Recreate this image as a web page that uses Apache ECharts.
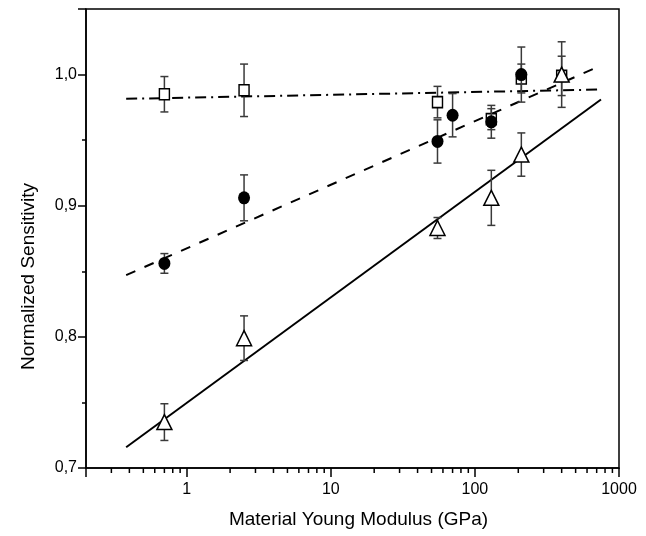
<!DOCTYPE html>
<html>
<head>
<meta charset="utf-8">
<script src="https://cdn.jsdelivr.net/npm/echarts@6/dist/echarts.min.js"></script>
<style>
  html, body { margin: 0; padding: 0; background: #fff; }
  #chart { width: 646px; height: 536px; }
</style>
</head>
<body>
<div id="chart"></div>
<script>
// ── Данные ───────────────────────────────────────────────────────────────────
var squareX   = [0.7, 2.5, 55, 130, 210, 400];
var squareY   = [0.985, 0.988, 0.979, 0.966, 0.997, 0.999];
var squareErr = [0.0135, 0.02, 0.012, 0.008, 0.011, 0.015];

var circleX   = [0.7, 2.5, 55, 70, 130, 210];
var circleY   = [0.856, 0.906, 0.949, 0.969, 0.964, 1.0];
var circleErr = [0.0075, 0.0175, 0.0165, 0.0165, 0.0125, 0.021];

var triangleX   = [0.7, 2.5, 55, 130, 210, 400];
var triangleY   = [0.735, 0.799, 0.883, 0.906, 0.939, 1.0];
var triangleErr = [0.014, 0.017, 0.008, 0.021, 0.0165, 0.025];

// концы линий аппроксимации
var fitX         = [0.38, 750];
var fitSquares   = [0.9815, 0.9886];
var fitCircles   = [0.8471, 1.0069];
var fitTriangles = [0.7158, 0.981];

var xMajorTicks = [1, 10, 100, 1000];
var xMinorTicks = [0.3, 0.4, 0.5, 0.6, 0.7, 0.8, 0.9,
                   2, 3, 4, 5, 6, 7, 8, 9,
                   20, 30, 40, 50, 60, 70, 80, 90,
                   200, 300, 400, 500, 600, 700, 800, 900];

var FONT = "'Liberation Sans', Arial, sans-serif";
var Y_MIN = 0.7, Y_MAX = 1.05;

function pairs(xs, ys) {
  return xs.map(function (x, i) { return [x, ys[i]]; });
}

// ── Планки погрешностей ──────────────────────────────────────────────────────
function errorBars(xs, ys, errs, z) {
  return {
    type: 'custom',
    silent: true,
    clip: false,
    z: z,
    encode: { x: 0, y: [1, 2] },
    data: xs.map(function (x, i) { return [x, ys[i] - errs[i], ys[i] + errs[i]]; }),
    renderItem: function (params, api) {
      var lo = api.coord([api.value(0), api.value(1)]);
      var hi = api.coord([api.value(0), api.value(2)]);
      var hw = 4;
      var style = { stroke: '#3a3a3a', lineWidth: 1.5 };
      return {
        type: 'group',
        children: [
          { type: 'line', shape: { x1: lo[0], y1: lo[1], x2: hi[0], y2: hi[1] }, style: style },
          { type: 'line', shape: { x1: hi[0] - hw, y1: hi[1], x2: hi[0] + hw, y2: hi[1] }, style: style },
          { type: 'line', shape: { x1: lo[0] - hw, y1: lo[1], x2: lo[0] + hw, y2: lo[1] }, style: style }
        ]
      };
    }
  };
}

function fitLine(ys, dash, z) {
  return {
    type: 'line',
    data: pairs(fitX, ys),
    symbol: 'none',
    silent: true,
    z: z,
    lineStyle: { color: '#000', width: 2, type: dash }
  };
}

var chart = echarts.init(document.getElementById('chart'));

chart.setOption({
  animation: false,
  backgroundColor: '#fff',
  textStyle: { fontFamily: FONT, color: '#000' },
  grid: {
    left: 86, right: 27, top: 9, bottom: 68,
    show: true, borderColor: '#000', borderWidth: 1.5
  },
  xAxis: {
    type: 'log',
    logBase: 10,
    min: 0.2,
    max: 1000,
    name: 'Material Young Modulus (GPa)',
    nameLocation: 'middle',
    nameGap: 42,
    nameTextStyle: { fontSize: 19, color: '#000', fontFamily: FONT, padding: [0, 0, 0, 12] },
    axisLine: { lineStyle: { color: '#000', width: 1.5 } },
    axisTick: { inside: false, length: 9, lineStyle: { color: '#000', width: 1.5 } },
    splitLine: { show: false },
    axisLabel: {
      fontSize: 16, color: '#000', fontFamily: FONT, margin: 14,
      formatter: function (v) {
        for (var i = 0; i < xMajorTicks.length; i++) {
          if (Math.abs(v - xMajorTicks[i]) < 1e-6 * xMajorTicks[i]) return String(xMajorTicks[i]);
        }
        return '';
      }
    }
  },
  yAxis: [{
    type: 'value',
    position: 'left',
    min: Y_MIN,
    max: Y_MAX,
    interval: 0.1,
    name: 'Normalized Sensitivity',
    nameLocation: 'middle',
    nameGap: 48,
    nameTextStyle: { fontSize: 19, color: '#000', fontFamily: FONT, padding: [0, 76, 0, 0] },
    axisLine: { show: true, lineStyle: { color: '#000', width: 1.5 } },
    axisTick: { length: 8, lineStyle: { color: '#000', width: 1.5 } },
    splitLine: { show: false },
    axisLabel: {
      fontSize: 16, color: '#000', fontFamily: FONT, margin: 9,
      formatter: function (v) {
        if (v > 1.0001) return '';
        return v.toFixed(1).replace('.', ',');
      }
    }
  }, {
    // промежуточные деления 0,75 / 0,85 / 0,95
    type: 'value',
    position: 'left',
    min: Y_MIN,
    max: Y_MAX,
    interval: 0.05,
    axisLine: { show: false },
    axisTick: { length: 4, lineStyle: { color: '#000', width: 1.5 } },
    axisLabel: { show: false },
    splitLine: { show: false }
  }],
  series: [
    fitLine(fitSquares, [11, 5, 2, 5], 2),
    fitLine(fitCircles, [10, 10], 2),
    fitLine(fitTriangles, 'solid', 2),

    // мелкие деления логарифмической оси
    {
      type: 'custom',
      silent: true,
      clip: false,
      z: 1,
      encode: { x: 0, y: 1 },
      data: xMinorTicks.map(function (v) { return [v, Y_MIN]; }),
      renderItem: function (params, api) {
        var p = api.coord([api.value(0), api.value(1)]);
        return {
          type: 'line',
          shape: { x1: p[0], y1: p[1], x2: p[0], y2: p[1] + 5 },
          style: { stroke: '#000', lineWidth: 1.5 }
        };
      }
    },

    errorBars(squareX, squareY, squareErr, 3),
    {
      type: 'scatter',
      data: pairs(squareX, squareY),
      symbol: 'rect',
      symbolSize: [10, 11],
      z: 4,
      itemStyle: { color: '#fff', borderColor: '#000', borderWidth: 1.5, opacity: 1 }
    },
    errorBars(circleX, circleY, circleErr, 5),
    {
      type: 'scatter',
      data: pairs(circleX, circleY),
      symbol: 'circle',
      symbolSize: [12, 13],
      z: 6,
      itemStyle: { color: '#000', opacity: 1 }
    },
    errorBars(triangleX, triangleY, triangleErr, 7),
    {
      type: 'scatter',
      data: pairs(triangleX, triangleY),
      symbol: 'triangle',
      symbolSize: [15, 15],
      z: 8,
      itemStyle: { color: '#fff', borderColor: '#000', borderWidth: 1.5, opacity: 1 }
    }
  ]
});
</script>
</body>
</html>
